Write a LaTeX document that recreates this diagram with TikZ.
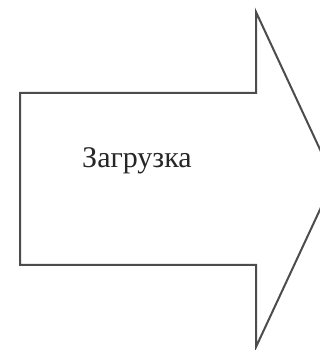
\documentclass[tikz,border=0pt]{standalone}
\usepackage{fontspec}
\setmainfont{Liberation Serif}
\begin{document}
\begin{tikzpicture}[x=1pt,y=1pt,
  arrowshape/.style={draw=black!70,line width=2pt,fill=white,line join=miter},
  label/.style={font=\fontsize{30}{30}\selectfont,text=black!85,anchor=base,inner sep=0pt}]
\useasboundingbox (0,0) rectangle (320,350);
\clip (0,0) rectangle (320,350);
\fill[white] (0,0) rectangle (320,350);
\coordinate (bl) at (20,85);
\coordinate (tl) at (20,257);
\coordinate (ts) at (256,257);
\coordinate (tt) at (256,338);
\coordinate (tip) at (334,170.5);
\coordinate (bt) at (256,3);
\coordinate (bs) at (256,85);
\draw[arrowshape] (bl) -- (tl) -- (ts) -- (tt) -- (tip) -- (bt) -- (bs) -- cycle;
\node[label] (txt) at (137,182) {Загрузка};
\end{tikzpicture}
\end{document}
